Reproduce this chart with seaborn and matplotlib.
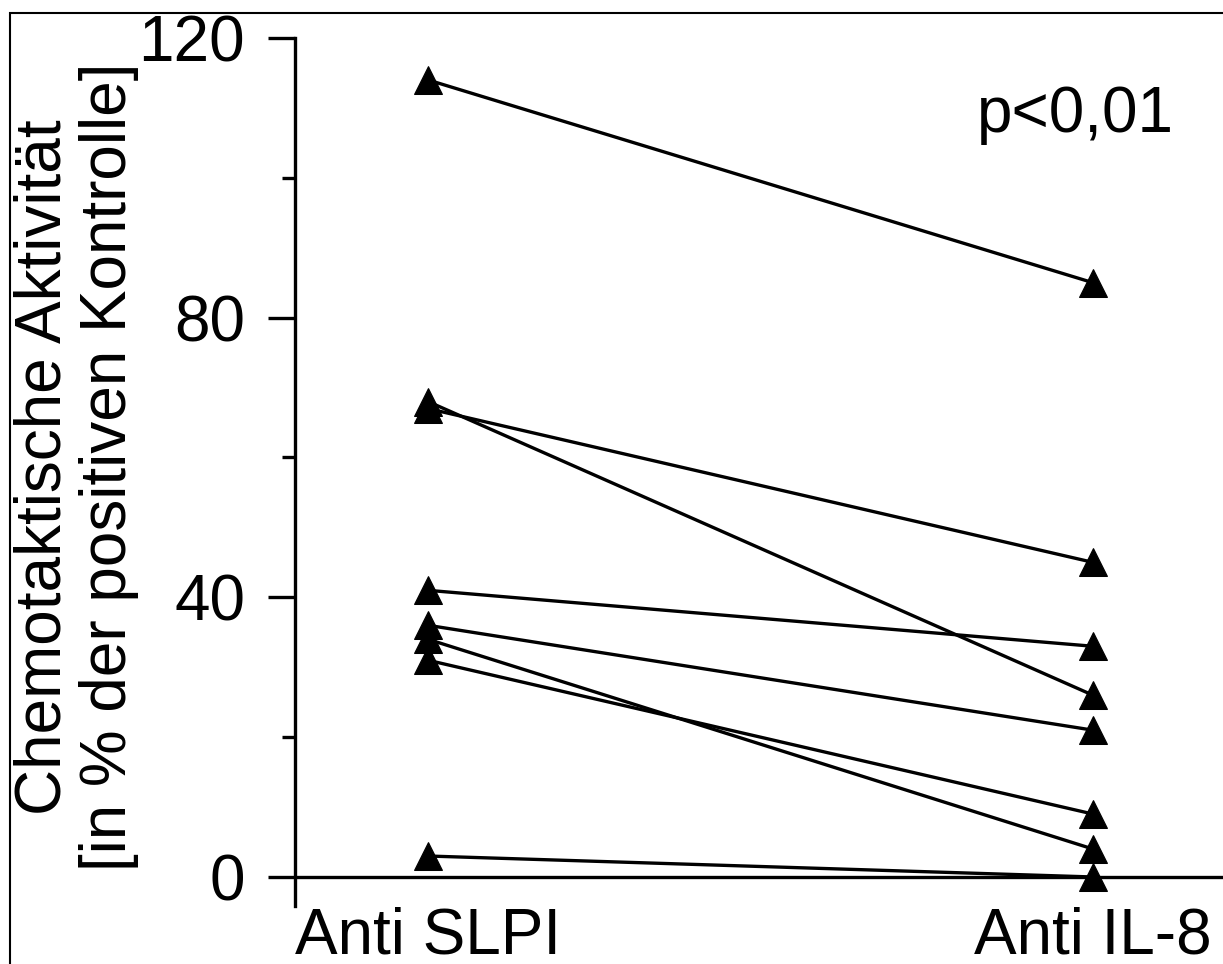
import matplotlib
matplotlib.use("Agg")
import matplotlib.pyplot as plt
import matplotlib.patches as mpatches
import seaborn as sns
import pandas as pd

# ---- data ----
conditions = ["Anti SLPI", "Anti IL-8"]
anti_slpi = [114, 68, 67, 41, 36, 34, 31, 3]
anti_il8 = [85, 26, 45, 33, 21, 4, 9, 0]
subjects = list(range(1, len(anti_slpi) + 1))
y_major = [0, 40, 80, 120]
y_minor = [20, 60, 100]
ylabel_lines = ["Chemotaktische Aktivität", "[in % der positiven Kontrolle]"]
annotation = "p<0,01"

df = pd.DataFrame({
    "subject": subjects * 2,
    "condition": [conditions[0]] * len(subjects) + [conditions[1]] * len(subjects),
    "value": anti_slpi + anti_il8,
})

sns.set_style("white")
plt.rcParams["font.family"] = ["Liberation Sans", "DejaVu Sans"]
plt.rcParams["text.color"] = "black"
plt.rcParams["xtick.labelcolor"] = "black"
plt.rcParams["ytick.labelcolor"] = "black"
plt.rcParams["xtick.color"] = "black"
plt.rcParams["ytick.color"] = "black"

W, H = 1223, 964
fig = plt.figure(figsize=(W / 100, H / 100), dpi=100)
ax = fig.add_axes([295 / W, (H - 906) / H, (W - 295) / W, 868 / H])

sns.lineplot(data=df, x="condition", y="value", units="subject", estimator=None,
             color="black", linewidth=2.4, marker="^", markersize=20,
             markeredgecolor="black", markerfacecolor="black", ax=ax,
             legend=False, sort=False)

ax.set_xlim(-0.2, 1.1955)
ax.set_ylim(-4.15, 120)

ax.axhline(0, color="black", linewidth=2.4, zorder=1)

for s in ["top", "right", "bottom"]:
    ax.spines[s].set_visible(False)
ax.spines["left"].set_linewidth(2.4)
ax.spines["left"].set_color("black")

ax.set_yticks(y_major)
ax.set_yticks(y_minor, minor=True)
ax.set_yticklabels([str(v) for v in y_major])
ax.tick_params(axis="y", which="major", length=19.5, width=2.4, pad=16.5,
               labelsize=46, color="black", labelcolor="black", left=True)
ax.tick_params(axis="y", which="minor", length=9.5, width=2.4, color="black", left=True)
ax.tick_params(axis="x", length=0, pad=0, labelsize=46, labelcolor="black")
ax.set_xlabel("")
ax.set_ylabel("")
ax.grid(False)

fig.text(76 / W, (H - 467) / H, "\n".join(ylabel_lines), rotation=90,
         ha="center", va="center", fontsize=46, linespacing=1.12, color="black")
fig.text(977 / W, (H - 132) / H, annotation, ha="left", va="baseline",
         fontsize=46, color="black")

frame = mpatches.Rectangle((10 / W, -0.1), 2, (H - 13) / H + 0.1,
                           transform=fig.transFigure, fill=False,
                           edgecolor="black", linewidth=1.5, clip_on=False)
fig.patches.append(frame)

fig.savefig("out.png", dpi=100)
